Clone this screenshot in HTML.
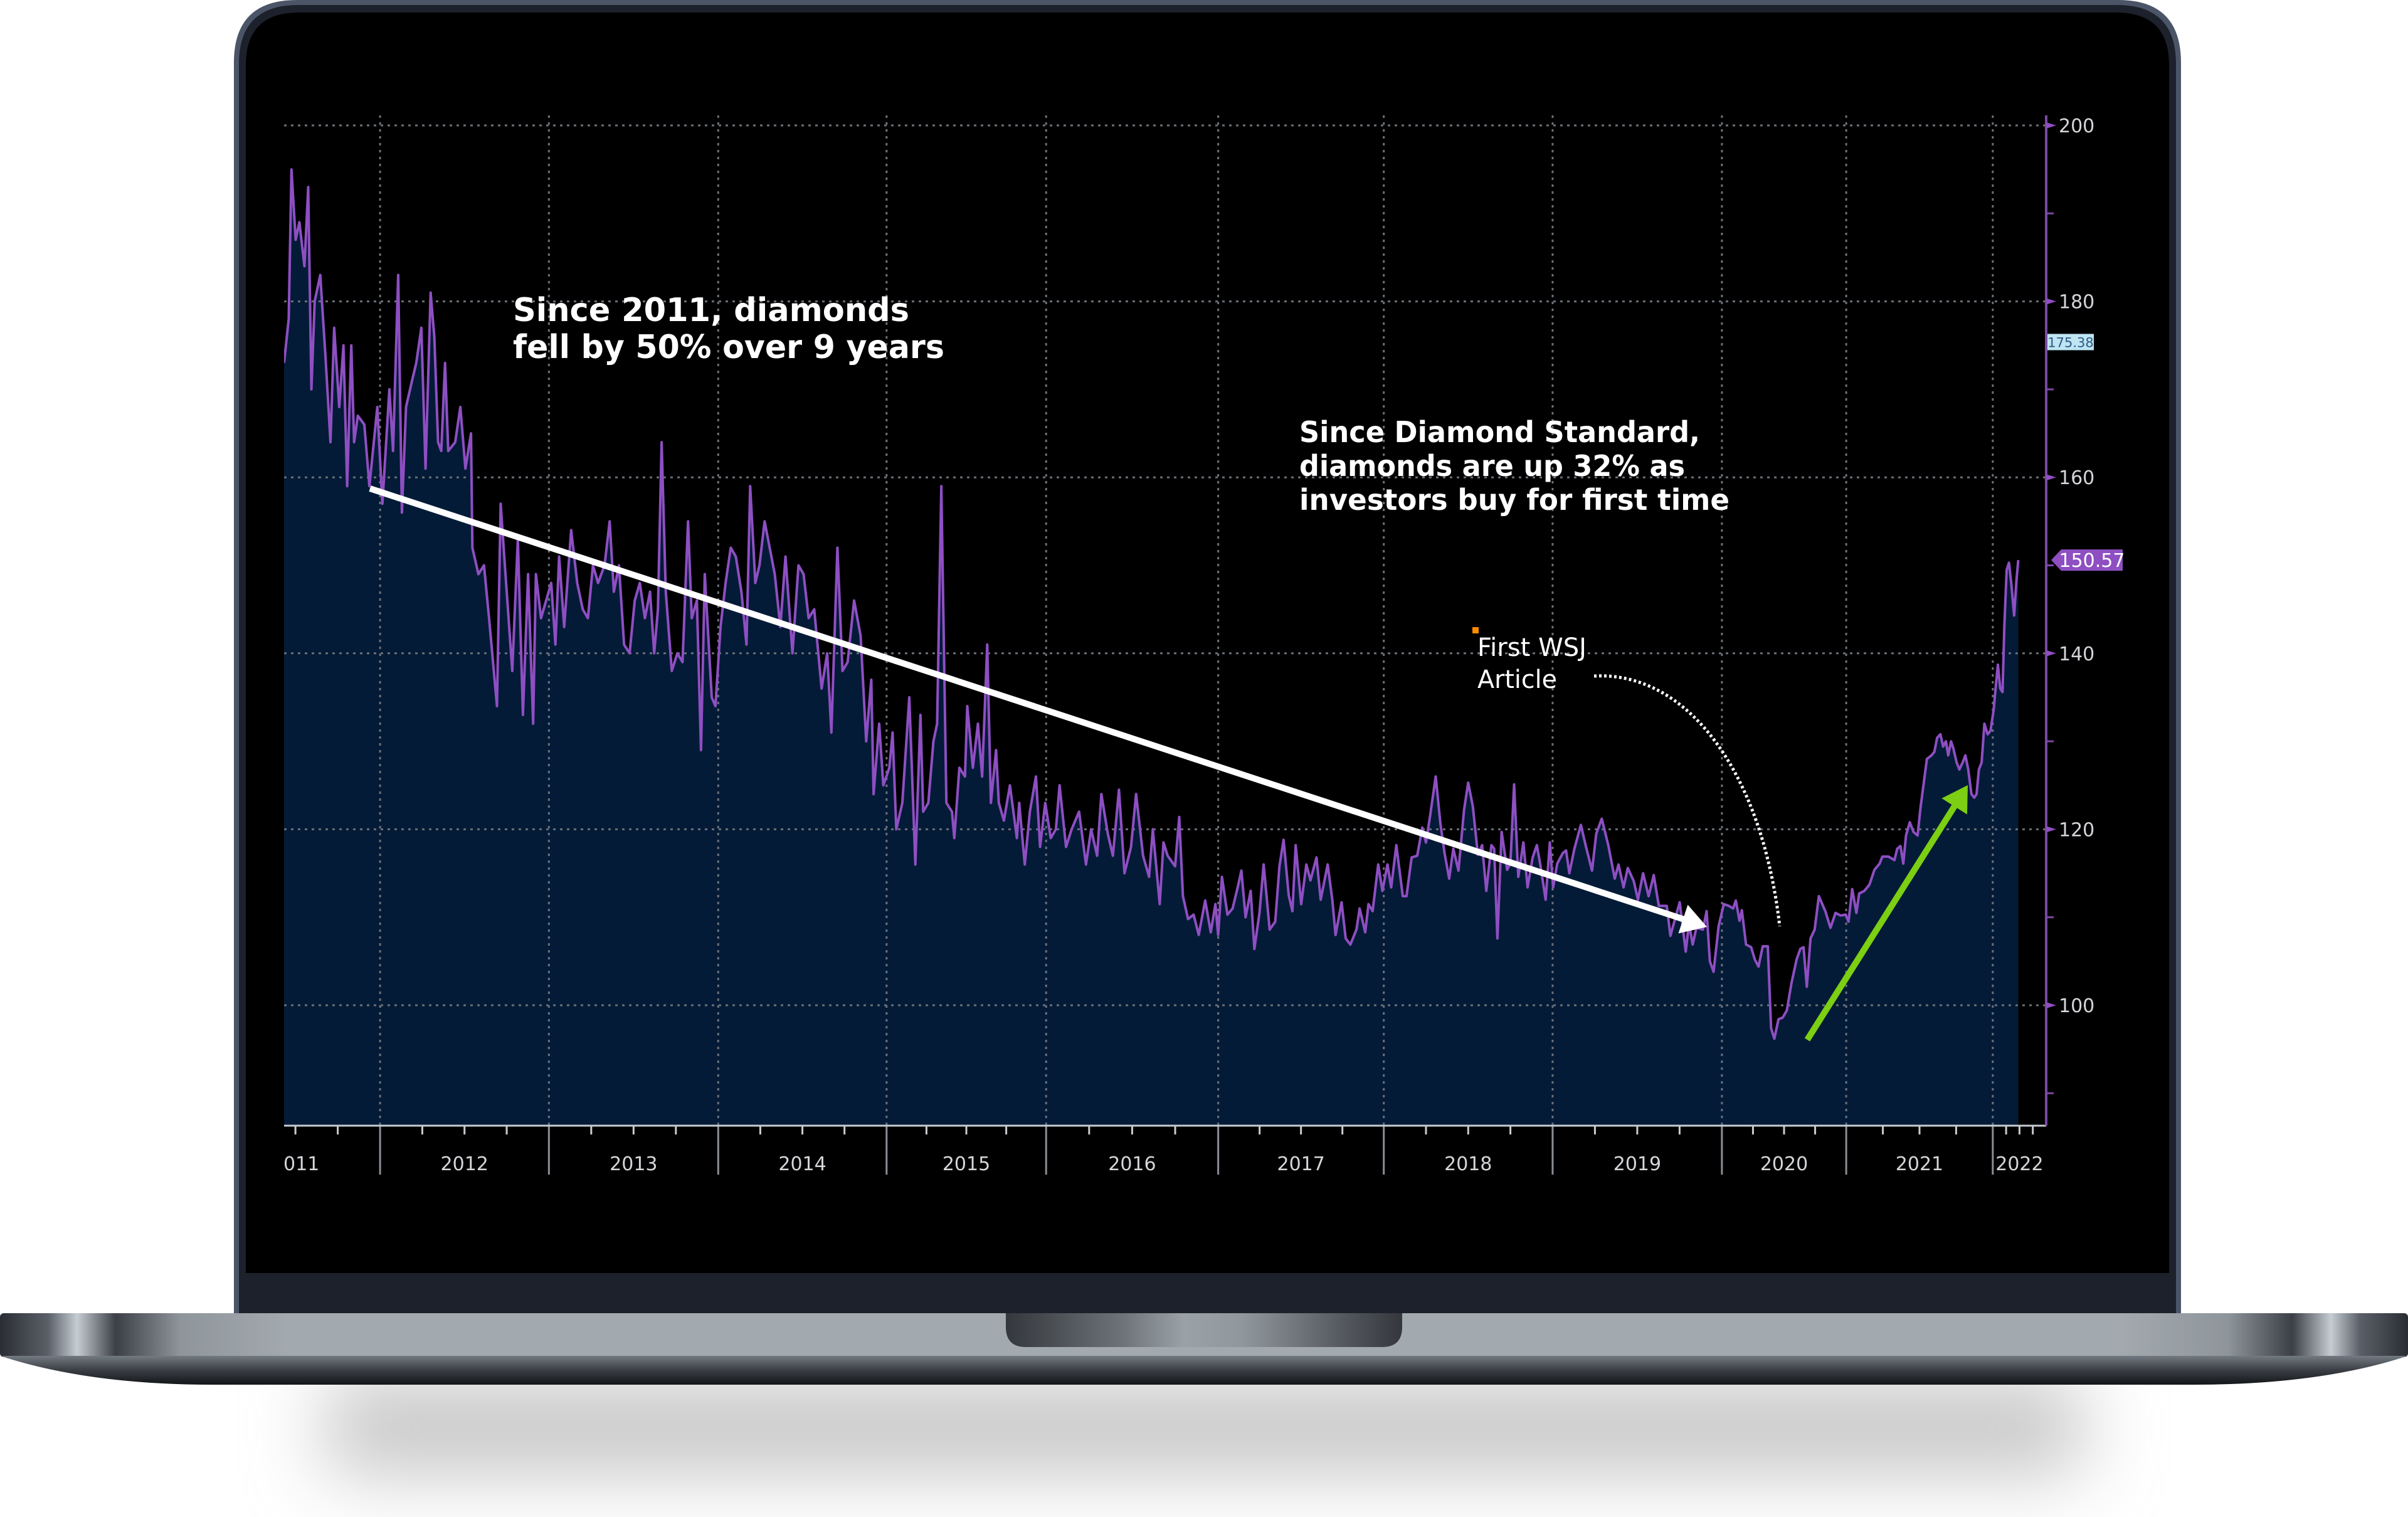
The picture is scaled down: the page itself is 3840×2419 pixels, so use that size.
<!DOCTYPE html>
<html><head><meta charset="utf-8"><title>Diamond price index chart on laptop</title>
<style>
html,body{margin:0;padding:0;background:#fff;}
svg{display:block;}
</style></head>
<body>
<svg id="root" width="3840" height="2419" viewBox="0 0 3840 2419" xmlns="http://www.w3.org/2000/svg">
<defs>
<linearGradient id="baseBand" x1="0" x2="1" y1="0" y2="0">
<stop offset="0" stop-color="#2a2d33"/><stop offset="0.02" stop-color="#5b6068"/><stop offset="0.032" stop-color="#c5ccd2"/><stop offset="0.048" stop-color="#3c4046"/><stop offset="0.075" stop-color="#8e959b"/><stop offset="0.12" stop-color="#a3aaaf"/>
<stop offset="0.88" stop-color="#a3aaaf"/><stop offset="0.925" stop-color="#8e959b"/><stop offset="0.952" stop-color="#3c4046"/><stop offset="0.968" stop-color="#c5ccd2"/><stop offset="0.98" stop-color="#5b6068"/><stop offset="1" stop-color="#2a2d33"/>
</linearGradient>
<linearGradient id="baseLower" x1="0" x2="0" y1="0" y2="1">
<stop offset="0" stop-color="#737a82"/><stop offset="0.5" stop-color="#3a3e44"/><stop offset="1" stop-color="#131518"/>
</linearGradient>
<linearGradient id="notchGrad" x1="0" x2="1" y1="0" y2="0">
<stop offset="0" stop-color="#34373c"/><stop offset="0.3" stop-color="#6e747a"/><stop offset="0.45" stop-color="#9aa2a8"/><stop offset="0.6" stop-color="#8f979c"/><stop offset="0.85" stop-color="#55595f"/><stop offset="1" stop-color="#34373c"/>
</linearGradient>
<filter id="blurShadow" x="-20%" y="-100%" width="140%" height="300%"><feGaussianBlur stdDeviation="60"/></filter>
<clipPath id="screenClip"><rect x="453" y="0" width="3006" height="2030"/></clipPath>
</defs>

<rect x="0" y="0" width="3840" height="2419" fill="#ffffff"/>
<rect x="520" y="2200" width="2800" height="150" fill="#c6c6c6" filter="url(#blurShadow)"/>

<path d="M373,2100 L373,100 Q373,0 473,0 L3378,0 Q3478,0 3478,100 L3478,2100 Z" fill="#4b5567"/>
<path d="M381,2100 L381,102 Q381,8 475,8 L3376,8 Q3470,8 3470,102 L3470,2100 Z" fill="#1c212b"/>
<path d="M392,2030 L392,104 Q392,20 476,20 L3375,20 Q3459,20 3459,104 L3459,2030 Z" fill="#000000"/>

<rect x="0" y="2094" width="3840" height="70" rx="6" fill="url(#baseBand)"/>
<path d="M0,2162 L3840,2162 Q3700,2208 3500,2208 L340,2208 Q140,2208 0,2162 Z" fill="url(#baseLower)"/>
<path d="M1604,2094 L2236,2094 L2236,2116 Q2236,2148 2204,2148 L1636,2148 Q1604,2148 1604,2116 Z" fill="url(#notchGrad)"/>

<g id="chart" clip-path="url(#screenClip)"></g>
</svg>

<script>
// ---- chart data ----
const days = [
0,10,16,25,33,44,52,59,66,78,
89,100,108,119,128,136,145,151,159,173,
184,201,212,227,235,246,254,263,276,285,
296,305,316,324,332,339,347,354,369,380,
391,403,406,419,431,442,459,467,476,492,
504,515,526,537,543,554,565,576,585,593,
604,619,632,644,655,666,677,691,702,711,
722,733,745,756,767,778,789,798,806,814,
823,836,848,859,871,879,890,899,907,922,
930,941,952,963,974,986,997,1005,1016,1025,
1036,1047,1058,1070,1081,1096,1109,1120,1131,1143,
1159,1171,1180,1193,1204,1215,1229,1243,1255,1266,
1271,1283,1292,1305,1312,1320,1333,1348,1361,1372,
1378,1389,1400,1408,1417,1428,1440,1445,1456,1468,
1473,1485,1496,1505,1516,1524,1535,1541,1552,1565,
1580,1585,1597,1608,1621,1630,1641,1653,1664,1672,
1686,1698,1714,1729,1740,
1753,1762,1776,1787,1800,1812,1826,1837,1852,1865,
1873,1888,1896,1905,1921,1930,1938,1949,1961,1972,
1986,1998,2008,2014,2022,2034,2045,2056,2064,2073,
2084,2092,2103,2112,2125,2137,2146,2155,2166,2174,
2181,2193,2204,2213,2226,2235,2250,2260,2267,2280,
2289,2299,2312,2319,2331,2338,2347,2359,2368,2379,
2387,2398,2412,2420,2431,2443,2454,2462,2471,2483,
2493,2502,2512,2521,2532,2544,2553,2563,2574,2583,
2592,2603,2609,2616,2625,2637,2644,2652,2661,2672,
2681,2692,2701,2708,2720,2729,2736,2745,2757,2764,
2771,2782,2796,2807,2820,2829,2841,2855,2869,2877,
2888,2897,2910,2919,2930,2942,2953,2964,2981,2989,
3000,3009,3022,3029,3037,3045,3059,3067,3074,3082,
3093,3104,3115,3124,3130,3138,3143,3152,3163,3171,
3179,3188,3199,3206,3213,3222,3231,3240,3250,3261,
3269,3276,3283,3291,3300,3309,3323,3334,3345,3356,
3367,3373,3381,3390,3396,3407,3418,3429,3440,
3446,3459,3472,3478,3485,3491,3497,3505,3513,3522,
3528,3536,3542,3552,3558,3564,3571,3577,3583,3588,
3594,3599,3606,3612,3619,3625,3631,3638,3644,3649,
3654,3660,3666,3673,3679,3686,3690,3695,3700,3705,
3709,3714,3719,3724,3730,3735,3739
];
const values = [
173,178,195,187,189,184,193,170,180,183,
174,164,177,168,175,159,175,164,167,166,
159,168,157,170,163,183,156,168,171,173,
177,161,181,176,164,163,173,163,164,168,
161,165,152,149,150,144,134,157,150,138,
153,133,149,132,149,144,146,148,141,151,
143,154,148,145,144,150,148,150,155,147,
150,141,140,146,148,144,147,140,145,164,
147,138,140,139,155,144,146,129,149,135,
134,143,148,152,151,147,141,159,148,150,
155,152,149,143,151,140,150,149,144,145,
136,140,131,152,138,139,146,142,130,137,
124,132,125,127,131,120,123,135,116,133,
122,123,130,132,159,123,122,119,127,126,
134,127,132,126,141,123,129,123,121,125,
119,123,116,122,126,118,123,119,120,125,
118,120,122,116,120,
117,124,119.5,117,124.5,115,118,124,117,114.6,
120,111.5,118.5,117,115.8,121.4,112.4,109.8,110.3,108,
111.9,108.3,111.5,108,114.6,110.3,111,113.4,115.3,110,
113,106.4,110.5,116,108.6,109.5,115.8,118.8,112.5,110.7,
118.2,111.5,116,114.2,116.8,112,116,112,108,111.7,
107.6,106.9,108.6,111,108.3,111.5,110.7,116,113,116,
113.4,118.2,112.4,112.4,116.8,117,120.2,118.5,121.6,126,
120.7,117.3,114.4,117.8,115.3,122.2,125.3,122.6,117.1,118.2,
113,118.2,117.8,107.6,119.7,115.4,116.1,125.1,114.6,118.5,
113.4,116.8,118.2,116.1,112,118.5,113.4,116.1,117.3,117.6,
115,117.8,120.5,118,115.3,119.5,121.2,118.2,114.4,116,
113.4,115.6,114.1,112,115,112.4,114.8,111.3,111.3,107.9,
110,111.7,106.1,109.3,106.9,108.8,108.6,110.7,105,103.8,
109,111.5,111.3,111,111.9,109.6,110.8,106.9,106.6,105.2,
104.4,106.7,106.7,97.4,96.2,98.4,98.6,99.4,102.5,105.2,
106.4,106.6,102.1,107.6,108.6,112.4,110.7,108.8,110.5,110.2,
110.3,109.5,113.2,110.5,112.7,113,113.7,115.4,116.1,
116.9,116.9,116.5,117.8,118.1,116.1,119.3,120.8,119.7,119.3,
122.4,125.6,128,128.4,128.8,130.4,130.8,129.4,130,128.4,
130,129.2,127.6,126.8,127.6,128.4,126.8,124,123.6,124,
126.8,127.6,132,130.8,131.2,133.6,136,138.7,136,135.6,
143.1,149.5,150.3,147.9,144.3,148.3,150.6
];
const yearLabels = ["2011","2012","2013","2014","2015","2016","2017","2018","2019","2020","2021","2022"];
const yearStartDays = [-158,207,571,936,1299,1643,2014,2371,2735,3100,3368,3684];
const yTickValues = [100,120,140,160,180,200];
const yMinorValues = [90,110,130,150,170,190];
const lastValueLabel = "150.57";
const highLabel = "175.38";
const highValue = 175.38;

// ---- scales ----
const X0 = 453, DAYS_PER_PX = 1.352, AXIS_X = 3263, AXIS_Y = 1795, TOP_Y = 184;
function xScale(d){ return X0 + d / DAYS_PER_PX; }
function yScale(v){ return 1603 - (v - 100) * 14.03; }
const axisEndDay = (AXIS_X - X0) * DAYS_PER_PX;

const NS = "http://www.w3.org/2000/svg";
const chart = document.getElementById("chart");
function mk(tag, attrs, parent){
  const e = document.createElementNS(NS, tag);
  for (const k in attrs) e.setAttribute(k, attrs[k]);
  (parent || chart).appendChild(e);
  return e;
}

// area fill
let dArea = "M" + xScale(days[0]) + "," + AXIS_Y;
let dLine = "";
for (let i = 0; i < days.length; i++) {
  const x = xScale(days[i]).toFixed(1), y = yScale(values[i]).toFixed(1);
  dArea += " L" + x + "," + y;
  dLine += (i ? " L" : "M") + x + "," + y;
}
dArea += " L" + xScale(days[days.length - 1]) + "," + AXIS_Y + " Z";
const area = mk("path", {d: dArea, fill: "#041b37"});



// horizontal gridlines
yTickValues.forEach(v => {
  const g = mk("line", {x1: X0, x2: AXIS_X, y1: yScale(v), y2: yScale(v), stroke: "#6a6f78", "stroke-width": 3, "stroke-dasharray": "4 7"});
  
  
});
// vertical gridlines & separators
yearStartDays.forEach((d, i) => {
  if (i === 0) return;
  const x = xScale(d);
  const g = mk("line", {x1: x, x2: x, y1: TOP_Y, y2: AXIS_Y, stroke: "#6a6f78", "stroke-width": 3, "stroke-dasharray": "4 7"});
  
  
  const s = mk("line", {x1: x, x2: x, y1: AXIS_Y, y2: AXIS_Y + 78, stroke: "#8a8f96", "stroke-width": 3});
  
  
});

// price line
const line = mk("path", {d: dLine, fill: "none", stroke: "#8e4fc2", "stroke-width": 4, "stroke-linejoin": "round"});



// x axis
const xAxis = mk("line", {x1: X0, x2: AXIS_X, y1: AXIS_Y, y2: AXIS_Y, stroke: "#c8ccd2", "stroke-width": 3});


yearLabels.forEach((lab, i) => {
  const d0 = yearStartDays[i];
  const d1 = i + 1 < yearStartDays.length ? yearStartDays[i + 1] : axisEndDay;
  for (let q = 1; q < 4; q++) {
    const x = xScale(d0 + (d1 - d0) * q / 4);
    if (x < X0 || x > AXIS_X) continue;
    const t = mk("line", {x1: x, x2: x, y1: AXIS_Y, y2: AXIS_Y + 14, stroke: "#c8ccd2", "stroke-width": 3});
    
    
  }
  const lx = Math.max(xScale((d0 + d1) / 2), 0);
  const tx = mk("text", {x: lx, y: 1866, "text-anchor": "middle", fill: "#d4d6da", "font-family": "DejaVu Sans, Liberation Sans, sans-serif", "font-size": 30});
  tx.textContent = lab;
  
  
});

// y axis
const yAxis = mk("line", {x1: AXIS_X, x2: AXIS_X, y1: TOP_Y, y2: AXIS_Y, stroke: "#7b48a8", "stroke-width": 4});


yTickValues.forEach(v => {
  const y = yScale(v);
  const t = mk("path", {d: "M" + AXIS_X + "," + (y - 5) + " L" + (AXIS_X + 16) + "," + y + " L" + AXIS_X + "," + (y + 5) + " Z", fill: "#8e4fc2"});
  
  
  const tx = mk("text", {x: AXIS_X + 20, y: y + 11, fill: "#d4d6da", "font-family": "DejaVu Sans, Liberation Sans, sans-serif", "font-size": 30});
  tx.textContent = String(v);
  
  
});
yMinorValues.forEach(v => {
  const y = yScale(v);
  const t = mk("line", {x1: AXIS_X, x2: AXIS_X + 12, y1: y, y2: y, stroke: "#7b48a8", "stroke-width": 3});
  
  
});

// high label
const hy = yScale(highValue);
const hb = mk("rect", {x: AXIS_X + 2, y: hy - 13, width: 74, height: 26, fill: "#bfe4f2"});


const ht = mk("text", {x: AXIS_X + 39, y: hy + 8, "text-anchor": "middle", fill: "#2b5a86", "font-family": "DejaVu Sans, sans-serif", "font-size": 21});
ht.textContent = highLabel;



// last value label
const lv = values[values.length - 1];
const ly = yScale(lv);
const lb = mk("path", {d: "M" + (AXIS_X + 8) + "," + ly + " L" + (AXIS_X + 24) + "," + (ly - 17) + " L" + (AXIS_X + 122) + "," + (ly - 17) + " L" + (AXIS_X + 122) + "," + (ly + 17) + " L" + (AXIS_X + 24) + "," + (ly + 17) + " Z", fill: "#8e4fc2"});


const lt = mk("text", {x: AXIS_X + 73, y: ly + 11, "text-anchor": "middle", fill: "#ffffff", "font-family": "DejaVu Sans, sans-serif", "font-size": 30});
lt.textContent = lastValueLabel;



// ---- annotations ----
function arrow(x1, y1, x2, y2, color, w, head, name){
  const g = mk("g", {});
  
  
  const dx = x2 - x1, dy = y2 - y1, L = Math.hypot(dx, dy), ux = dx / L, uy = dy / L;
  const bx = x2 - ux * head, by = y2 - uy * head;
  mk("line", {x1: x1, y1: y1, x2: bx + ux * 4, y2: by + uy * 4, stroke: color, "stroke-width": w}, g);
  mk("path", {d: "M" + x2 + "," + y2 + " L" + (bx - uy * head * 0.6) + "," + (by + ux * head * 0.6) + " L" + (bx + uy * head * 0.6) + "," + (by - ux * head * 0.6) + " Z", fill: color}, g);
}
arrow(590, 779, 2722, 1478, "#ffffff", 10, 40, "decline-trend-arrow");
arrow(2882, 1658, 3138, 1252, "#7ccf12", 10, 40, "rise-trend-arrow");

const curve = mk("path", {d: "M2542,1078 C2690,1070 2810,1230 2838,1477", fill: "none", stroke: "#ffffff", "stroke-width": 5, "stroke-dasharray": "4 4"});


const dot = mk("rect", {x: 2348, y: 1000, width: 10, height: 10, fill: "#ff8c00"});



function label(x, y, txt, size, weight, len, name){
  const t = mk("text", {x: x, y: y, fill: "#ffffff", "font-family": "DejaVu Sans, Liberation Sans, sans-serif", "font-size": size, "font-weight": weight, textLength: len, lengthAdjust: "spacingAndGlyphs"});
  t.textContent = txt;
  
  
}
label(818, 512, "Since 2011, diamonds", 52, "bold", 632, "decline-annotation-line1");
label(818, 571, "fell by 50% over 9 years", 52, "bold", 688, "decline-annotation-line2");
label(2072, 705, "Since Diamond Standard,", 46, "bold", 639, "rise-annotation-line1");
label(2072, 759, "diamonds are up 32% as", 46, "bold", 615, "rise-annotation-line2");
label(2072, 813, "investors buy for first time", 46, "bold", 686, "rise-annotation-line3");
label(2356, 1046, "First WSJ", 40, "normal", 174, "wsj-label-line1");
label(2356, 1097, "Article", 40, "normal", 127, "wsj-label-line2");
</script>
</body></html>
